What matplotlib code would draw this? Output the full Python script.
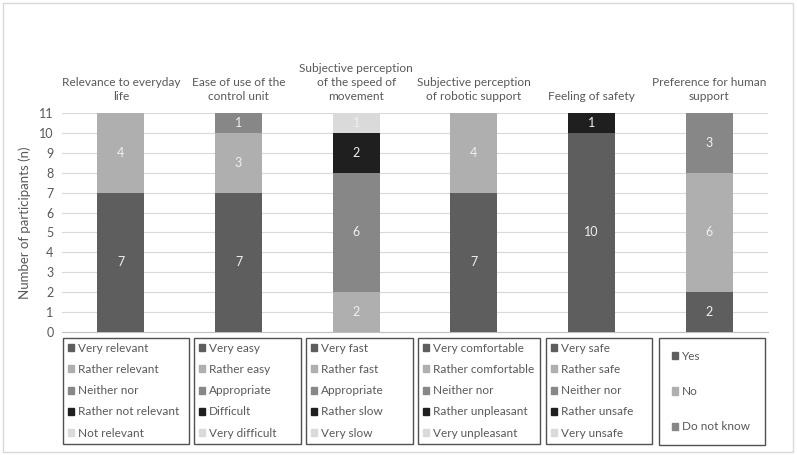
import numpy as np
import matplotlib
matplotlib.use("Agg")
import matplotlib.pyplot as plt
import matplotlib.patches as mpatches

plt.rcParams["font.family"] = ["Lato", "DejaVu Sans"]

TEXT = "#595959"
SHADES = ["#5e5e5e", "#afafaf", "#878787", "#1f1f1f", "#dadada"]

titles = [
    "Relevance to everyday\nlife",
    "Ease of use of the\ncontrol unit",
    "Subjective perception\nof the speed of\nmovement",
    "Subjective perception\nof robotic support",
    "Feeling of safety",
    "Preference for human\nsupport",
]

# answer labels per question (bottom of stack first)
relevance_labels = ["Very relevant", "Rather relevant", "Neither nor", "Rather not relevant", "Not relevant"]
ease_labels = ["Very easy", "Rather easy", "Appropriate", "Difficult", "Very difficult"]
speed_labels = ["Very fast", "Rather fast", "Appropriate", "Rather slow", "Very slow"]
robot_labels = ["Very comfortable", "Rather comfortable", "Neither nor", "Rather unpleasant", "Very unpleasant"]
safety_labels = ["Very safe", "Rather safe", "Neither nor", "Rather unsafe", "Very unsafe"]
preference_labels = ["Yes", "No", "Do not know"]

# counts per answer (same order as labels)
relevance_n = [7, 4, 0, 0, 0]
ease_n = [7, 3, 1, 0, 0]
speed_n = [0, 2, 6, 2, 1]
robot_n = [7, 4, 0, 0, 0]
safety_n = [10, 0, 0, 1, 0]
preference_n = [2, 6, 3]

labels_all = [relevance_labels, ease_labels, speed_labels, robot_labels, safety_labels, preference_labels]
counts_all = [relevance_n, ease_n, speed_n, robot_n, safety_n, preference_n]

W, H = 797, 455
fig = plt.figure(figsize=(W / 100, H / 100), dpi=100)
ax = fig.add_axes([62 / W, 1 - 332 / H, 706 / W, 219 / H])

# stacked bars
x = np.arange(len(titles))
for i, counts in enumerate(counts_all):
    bottom = 0
    for k, n in enumerate(counts):
        if n == 0:
            continue
        ax.bar(x[i], n, bottom=bottom, width=0.4, color=SHADES[k], zorder=3)
        ax.text(x[i], bottom + n / 2, str(n), ha="center", va="center",
                color="#f0f0f0", fontsize=9, zorder=4)
        bottom += n
    ax.annotate(titles[i], xy=(x[i], 11), xytext=(0, 8), textcoords="offset points",
                ha="center", va="bottom", fontsize=8.6, color=TEXT,
                multialignment="center", linespacing=1.3, annotation_clip=False)

ax.set_xlim(-0.5, len(titles) - 0.5)
ax.set_ylim(0, 11)
ax.set_yticks(range(0, 12))
ax.set_xticks([])
ax.grid(axis="y", color="#d9d9d9", linewidth=0.8, zorder=0)
for s in ["top", "right", "left"]:
    ax.spines[s].set_visible(False)
ax.spines["bottom"].set_color("#bfbfbf")
ax.tick_params(axis="y", length=0, labelsize=9, labelcolor=TEXT, pad=6)
ax.set_ylabel("Number of participants (n)", fontsize=9.5, color=TEXT, labelpad=6)

# one legend box under each bar
boxes = [(63, 126), (194, 107), (306, 107), (418, 122), (546, 106), (659, 106)]
for (bx, bw), labs in zip(boxes, labels_all):
    handles = [mpatches.Patch(color=SHADES[k], label=lab) for k, lab in enumerate(labs)]
    few = len(labs) < 5
    leg = fig.legend(handles=handles, loc="upper left", mode="expand",
                     bbox_to_anchor=(bx / W, 1 - 444 / H, bw / W, 106 / H),
                     borderaxespad=0, fontsize=8.5, frameon=True, fancybox=False,
                     handlelength=0.55, handleheight=0.55, handletextpad=0.3,
                     labelspacing=2.05 if few else 0.86,
                     borderpad=1.1 if few else 0.42,
                     labelcolor=TEXT)
    leg.get_frame().set_edgecolor("#262626")
    leg.get_frame().set_linewidth(1.0)

# outer chart border
fig.patches.append(mpatches.Rectangle((3 / W, 3 / H), 790 / W, 449 / H, fill=False,
                                      edgecolor="#d9d9d9", linewidth=1,
                                      transform=fig.transFigure))

fig.savefig("out.png", dpi=100)
